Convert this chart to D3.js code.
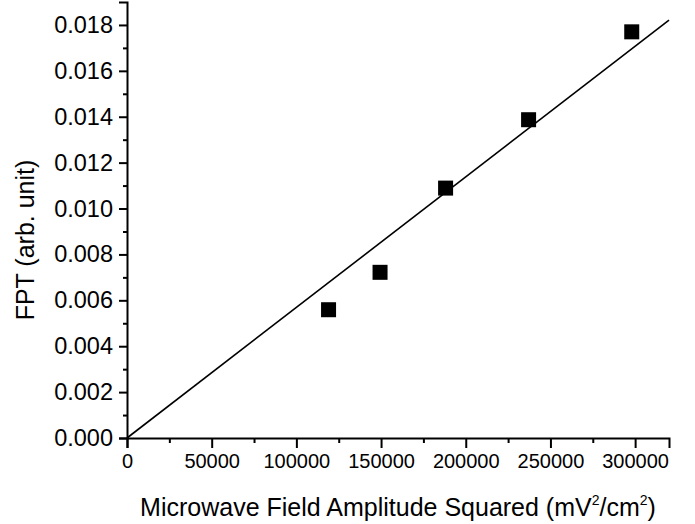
<!DOCTYPE html>
<html>
<head>
<meta charset="utf-8">
<script src="https://cdn.jsdelivr.net/npm/d3@7"></script>
<style>
  html, body { margin: 0; padding: 0; background: #fff; }
  svg { display: block; font-family: "Liberation Sans", Arial, sans-serif; }
</style>
</head>
<body>
<svg id="chart" width="695" height="524"></svg>
<script>
// Measured points: field amplitude squared vs FPT
const fieldSquared = [119000, 149400, 188100, 237100, 298000];
const fptValues = [0.00559, 0.00722, 0.01089, 0.01387, 0.01770];
// Linear fit through the origin
const fitSlope = 5.69e-8;
const xTicks = [0, 50000, 100000, 150000, 200000, 250000, 300000];
const yTicks = [0, 0.002, 0.004, 0.006, 0.008, 0.010, 0.012, 0.014, 0.016, 0.018];

const svg = d3.select("#chart");
const margin = { left: 127, right: 26, top: 2, bottom: 86 };
const W = 695, H = 524;

const x = d3.scaleLinear().domain([0, 320000]).range([margin.left, W - margin.right]);
const y = d3.scaleLinear().domain([0, 0.019]).range([H - margin.bottom, margin.top]);

const g = svg.append("g");

// minor ticks
const xMinor = d3.range(25000, 320000, 50000);
const yMinor = d3.range(0.001, 0.019, 0.002);

const xAxis = d3.axisBottom(x).tickValues(xTicks).tickFormat(d3.format("d")).tickSizeOuter(0).tickSize(10).tickPadding(6);
const yAxis = d3.axisLeft(y).tickValues(yTicks).tickFormat(d3.format(".3f")).tickSizeOuter(0).tickSize(8).tickPadding(6);

const gx = g.append("g").attr("transform", `translate(0,${y(0)})`).call(xAxis);
const gy = g.append("g").attr("transform", `translate(${x(0)},0)`).call(yAxis);

g.append("g").attr("transform", `translate(0,${y(0)})`)
  .call(d3.axisBottom(x).tickValues(xMinor).tickFormat("").tickSize(5).tickSizeOuter(0))
  .select(".domain").remove();
g.append("g").attr("transform", `translate(${x(0)},0)`)
  .call(d3.axisLeft(y).tickValues(yMinor).tickFormat("").tickSize(4).tickSizeOuter(0))
  .select(".domain").remove();

svg.selectAll(".domain").attr("stroke", "#000").attr("stroke-width", 2);
svg.selectAll(".tick line").attr("stroke", "#000").attr("stroke-width", 2);
gx.selectAll(".tick text").attr("font-size", 20).attr("fill", "#000").attr("font-family", "Liberation Sans, Arial, sans-serif");
gy.selectAll(".tick text").attr("font-size", 23.5).attr("fill", "#000").attr("font-family", "Liberation Sans, Arial, sans-serif");

// fit line
const xMax = 320000;
g.append("line")
  .attr("x1", x(0)).attr("y1", y(0))
  .attr("x2", x(xMax)).attr("y2", y(fitSlope * xMax))
  .attr("stroke", "#000").attr("stroke-width", 1.6);

// square markers
const s = 15;
g.selectAll("rect.pt").data(d3.zip(fieldSquared, fptValues)).join("rect")
  .attr("class", "pt")
  .attr("x", d => x(d[0]) - s / 2)
  .attr("y", d => y(d[1]) - s / 2)
  .attr("width", s).attr("height", s)
  .attr("fill", "#000");

// axis titles
const xt = svg.append("text")
  .attr("x", 398).attr("y", 516)
  .attr("text-anchor", "middle").attr("font-size", 25).attr("fill", "#000");
xt.append("tspan").text("Microwave Field Amplitude Squared (mV");
xt.append("tspan").attr("font-size", 14).attr("dy", -11).text("2");
xt.append("tspan").attr("dy", 11).text("/cm");
xt.append("tspan").attr("font-size", 14).attr("dy", -11).text("2");
xt.append("tspan").attr("dy", 11).text(")");

svg.append("text")
  .attr("transform", `translate(34,240) rotate(-90)`)
  .attr("text-anchor", "middle").attr("font-size", 25).attr("fill", "#000")
  .text("FPT (arb. unit)");
</script>
</body>
</html>
